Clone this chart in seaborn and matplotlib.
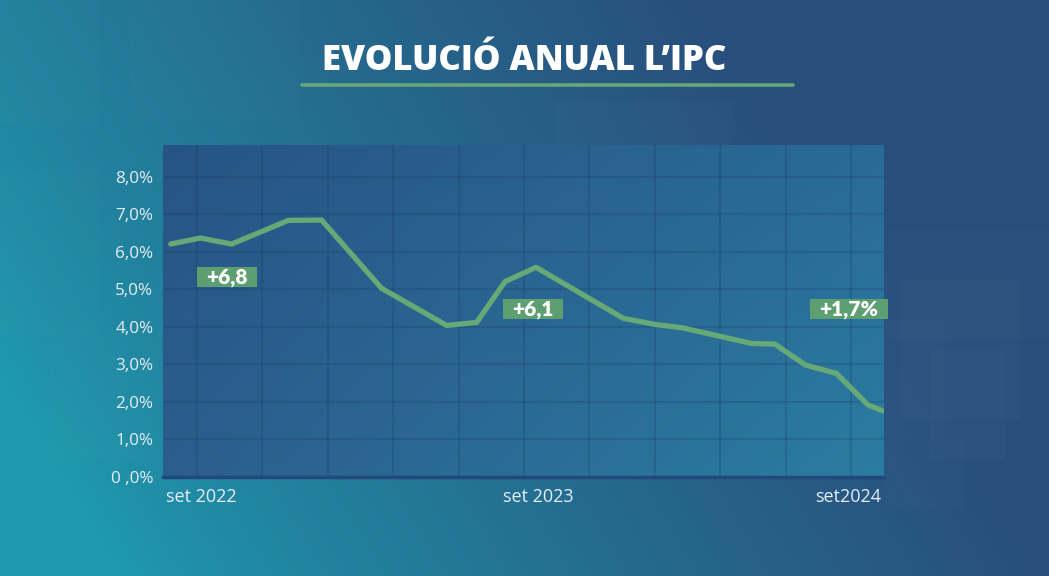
import numpy as np
import matplotlib
matplotlib.use("Agg")
import matplotlib.pyplot as plt
import seaborn as sns
from matplotlib.lines import Line2D
from matplotlib.patches import Rectangle

# ---------------- data ----------------
months = [0.0, 1.0, 2.05, 3.96, 5.08, 7.1, 9.29, 10.3, 11.26, 12.3,
          15.24, 16.36, 17.21, 19.56, 20.35, 21.36, 22.42, 23.48, 24.0]
ipc = [6.21, 6.37, 6.21, 6.84, 6.85, 5.03, 4.04, 4.12, 5.21, 5.59,
       4.23, 4.06, 3.98, 3.56, 3.54, 2.99, 2.76, 1.92, 1.76]

ytick_vals = [0, 1, 2, 3, 4, 5, 6, 7, 8]
ytick_labels = ["0 ,0%", "1,0%", "2,0%", "3,0%", "4,0%", "5,0%", "6,0%", "7,0%", "8,0%"]

xtick_pos = [1.04, 12.37, 22.8]
xtick_labels = ["set 2022", "set 2023", "set2024"]

callout_text = ["+6,8", "+6,1", "+1,7%"]
callout_x = [1.9, 12.2, 22.84]
callout_y = [5.32, 4.47, 4.47]

title = "EVOLUCIÓ ANUAL L\u2019IPC"

# ---------------- style ----------------
sns.set_style("white")
plt.rcParams["font.family"] = ["Open Sans", "DejaVu Sans"]

W, H = 1049, 576
fig = plt.figure(figsize=(W / 100, H / 100), dpi=100)

# background gradient
teal = np.array([0.12, 0.60, 0.68])
navy = np.array([0.16, 0.31, 0.49])
xx, yy = np.meshgrid(np.linspace(0, 1, 400), np.linspace(0, 1, 220))
t = np.clip(xx * 1.15 + (1 - yy) * 0.38 - 0.14, 0, 1) ** 0.8
bg = teal[None, None, :] * (1 - t[..., None]) + navy[None, None, :] * t[..., None]
bg_ax = fig.add_axes([0, 0, 1, 1])
bg_ax.imshow(bg, extent=[0, W, H, 0], aspect="auto", interpolation="bicubic")
bg_ax.set_xlim(0, W)
bg_ax.set_ylim(H, 0)
bg_ax.axis("off")
# faint decorative blocks
for (x0, y0, w, h, a) in [(0, 0, 100, 125, 0.012), (130, 0, 170, 120, 0.012),
                          (0, 170, 100, 165, 0.012), (555, 100, 180, 80, 0.015),
                          (880, 230, 169, 110, 0.012), (900, 280, 120, 140, 0.015),
                          (885, 320, 60, 120, 0.015), (930, 350, 75, 110, 0.015),
                          (885, 440, 80, 70, 0.012), (50, 330, 110, 130, 0.01)]:
    bg_ax.add_patch(Rectangle((x0, y0), w, h, color="white", alpha=a, lw=0))

# main axes
left, right, top, bottom = 163, 884, 145, 477
ax = fig.add_axes([left / W, 1 - bottom / H, (right - left) / W, (bottom - top) / H])
xlim = (-0.26, 24.02)
ylim = (0, 8.85)

# plot area gradient
c_lt = np.array([0.155, 0.33, 0.52])
c_lb = np.array([0.17, 0.37, 0.55])
c_rt = np.array([0.165, 0.42, 0.59])
c_rb = np.array([0.165, 0.49, 0.63])
gx, gy = np.meshgrid(np.linspace(0, 1, 200), np.linspace(0, 1, 100))
gx = gx[..., None]; gy = gy[..., None]
pa = (c_lt * (1 - gx) * (1 - gy) + c_rt * gx * (1 - gy) +
      c_lb * (1 - gx) * gy + c_rb * gx * gy)
ax.imshow(pa, extent=[xlim[0], xlim[1], ylim[0], ylim[1]], aspect="auto",
          origin="upper", zorder=0, interpolation="bicubic")

green = "#67a877"
sns.lineplot(x=months, y=ipc, ax=ax, color=green, linewidth=3.8, zorder=5,
             solid_capstyle="round", solid_joinstyle="round")

ax.set_xlim(*xlim)
ax.set_ylim(*ylim)

# grid
grid_color = "#14345c"
grid_x = [0.885 + 2.202 * k for k in range(11)]
ax.set_xticks(grid_x, minor=True)
ax.set_xticks(xtick_pos)
ax.set_xticklabels(xtick_labels)
ax.set_yticks(ytick_vals)
ax.set_yticklabels(ytick_labels)
ax.grid(False)
ax.grid(which="minor", axis="x", color=grid_color, alpha=0.2, linewidth=1.5, zorder=1)
ax.grid(which="major", axis="y", color=grid_color, alpha=0.2, linewidth=1.5, zorder=1)

for s in ["top", "right", "left"]:
    ax.spines[s].set_visible(False)
ax.spines["bottom"].set_color("#22497a")
ax.spines["bottom"].set_linewidth(2.5)
ax.spines["bottom"].set_zorder(6)

ax.tick_params(axis="both", which="both", length=0)
ax.tick_params(axis="y", colors="#e6eef5", labelsize=12.3, pad=7)
ax.tick_params(axis="x", colors="#e6eef5", labelsize=13, pad=8)
ax.set_xlabel("")
ax.set_ylabel("")

# callouts
for txt, cx, cy in zip(callout_text, callout_x, callout_y):
    ax.text(cx, cy, txt, ha="center", va="center", color="white",
            fontsize=15, fontweight="heavy", family=["Lato", "DejaVu Sans"], zorder=7,
            bbox=dict(boxstyle="square,pad=0.45", fc="#5e9f71", ec="none",
                      mutation_aspect=0.05))

# title + underline
fig.text(524 / W, 1 - 61 / H, title, ha="center", va="center", color="white",
         fontsize=25, fontweight="heavy")
fig.add_artist(Line2D([302 / W, 793 / W], [1 - 85 / H, 1 - 85 / H],
                      color=green, linewidth=2.6, transform=fig.transFigure))

fig.savefig("out.png", dpi=100)
